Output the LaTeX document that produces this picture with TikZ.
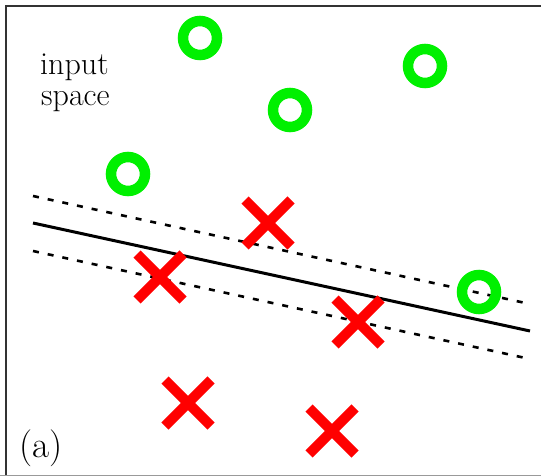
\documentclass[tikz,border=0pt]{standalone}
\usepackage{fontspec}
\usetikzlibrary{shapes.misc}
\definecolor{ringgreen}{RGB}{0,240,0}
\definecolor{xred}{RGB}{255,0,0}
\begin{document}
\begin{tikzpicture}[x=1pt,y=-1pt,
  ring/.style={circle, draw=ringgreen, line width=10.5pt, minimum size=34pt, inner sep=0pt},
  xmark/.style={cross out, draw=xred, line width=10pt, minimum size=36pt, inner sep=0pt},
  margin/.style={line width=2.6pt, dash pattern=on 6pt off 9pt},
  sep/.style={line width=3pt},
  lbl/.style={anchor=base west, inner sep=0pt, font=\rmfamily\fontsize{32}{30}\selectfont}]
\useasboundingbox (0,0) rectangle (541,476);
% frame
\draw[line width=2.5pt, black!80] (6,476) -- (6,6) -- (545,6);
\draw[line width=1.5pt, black!40] (0,475.5) -- (545,475.5);
% labels
\node[lbl] (t1) at (40,75) {input};
\node[lbl] (t2) at (41,106) {space};
\node[anchor=base west, inner sep=0pt, font=\rmfamily\fontsize{37}{37}\selectfont] (ta) at (19,457) {(a)};
% lines
\coordinate (s1) at (33,223);
\coordinate (s2) at (530,331);
\coordinate (u1) at (33,196);
\coordinate (u2) at (530,304);
\coordinate (l1) at (33,251);
\coordinate (l2) at (530,359);
\draw[sep] (s1) -- (s2);
\draw[margin] (u1) -- (u2);
\draw[margin] (l1) -- (l2);
% circles
\node[ring] (c1) at (200,38) {};
\node[ring] (c2) at (425,66) {};
\node[ring] (c3) at (290,110) {};
\node[ring] (c4) at (128,174) {};
\node[ring] (c5) at (479,292) {};
% crosses
\node[xmark] (x1) at (268,223) {};
\node[xmark] (x2) at (160,277) {};
\node[xmark] (x3) at (358,322) {};
\node[xmark] (x4) at (188,403) {};
\node[xmark] (x5) at (332,431) {};
\end{tikzpicture}
\end{document}
